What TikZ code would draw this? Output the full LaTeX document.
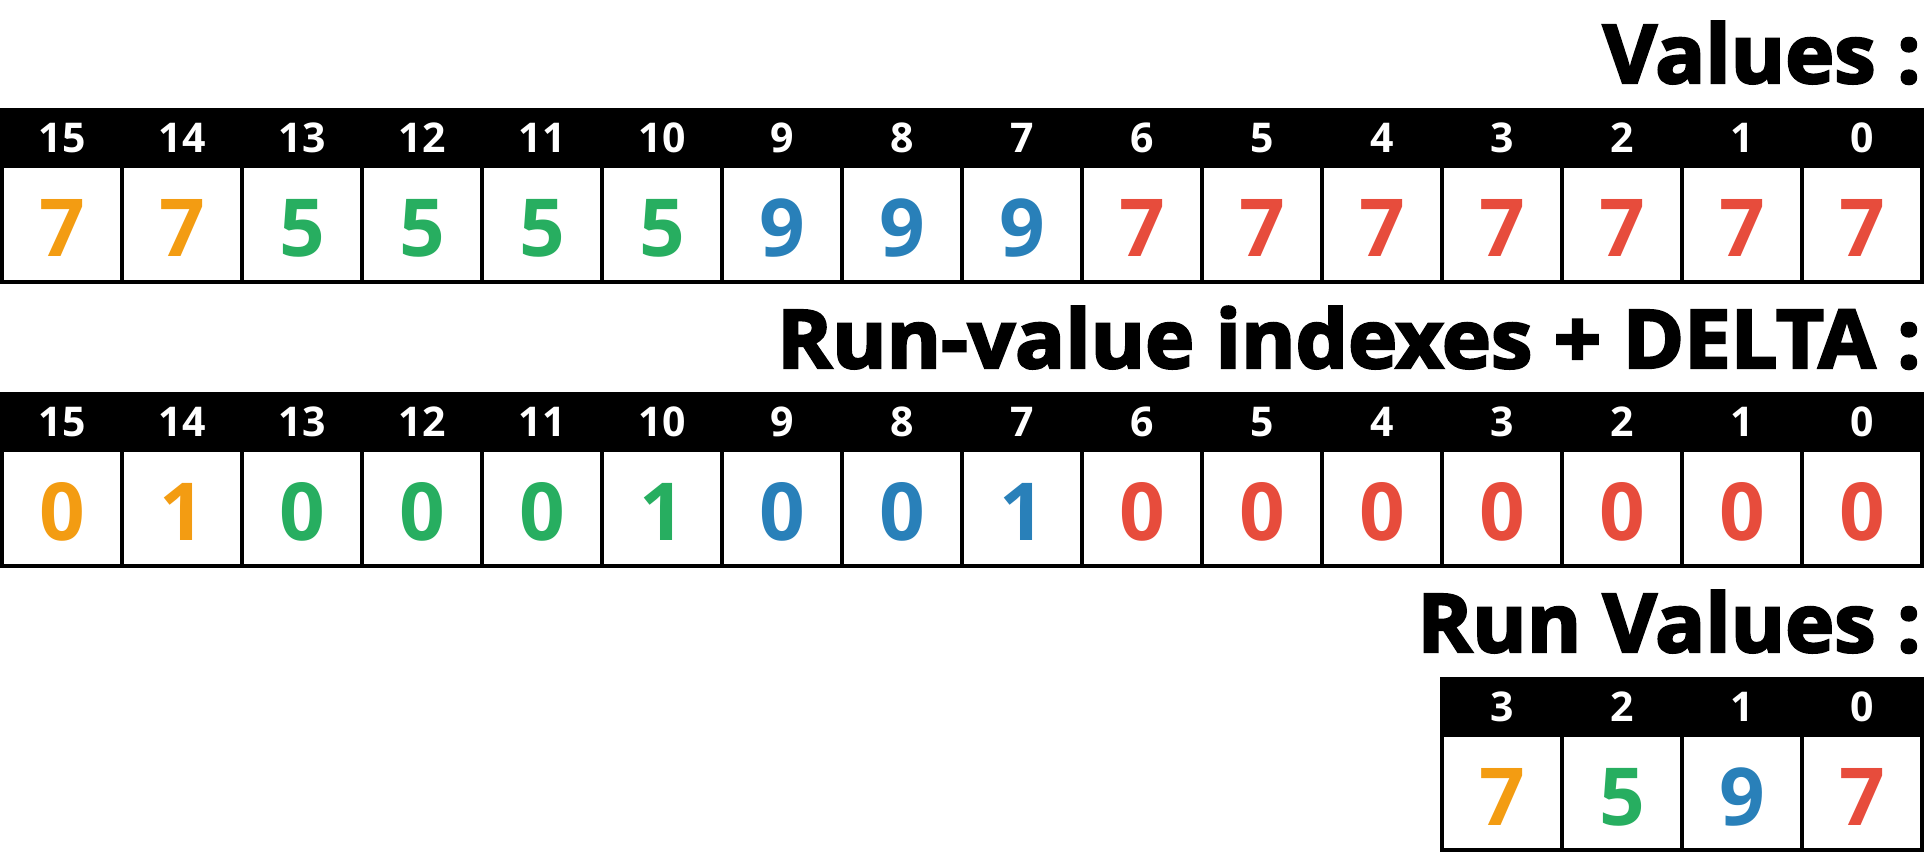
\documentclass[tikz,border=0pt]{standalone}
\usepackage{fontspec}
\setmainfont{Open Sans}
\newfontfamily\heavyfont{Open Sans}[BoldFeatures={FakeBold=3, FakeStretch=1.025}]
\definecolor{cOr}{HTML}{F39C12}
\definecolor{cGr}{HTML}{27AE60}
\definecolor{cBl}{HTML}{2980B9}
\definecolor{cRd}{HTML}{E74C3C}
\tikzset{
  bar/.style={fill=black, draw=none, inner sep=0, outer sep=0, minimum height=59.5pt, anchor=north west},
  cell/.style={draw=black, line width=4pt, minimum width=120pt, minimum height=116pt, inner sep=0, outer sep=0},
  hdr/.style={text=white, font=\bfseries\fontsize{41}{41}\selectfont, anchor=base, inner sep=0},
  val/.style={font=\bfseries\fontsize{80}{80}\selectfont, anchor=base, inner sep=0},
  title/.style={font=\heavyfont\bfseries\fontsize{81}{81}\selectfont, anchor=base east, inner sep=0}
}
\begin{document}
\begin{tikzpicture}[x=1pt,y=-1pt]
\useasboundingbox (0,0) rectangle (1924,852);
% Row 1
\node[title] (t1) at (1921,83) {Values :};
\node[bar, minimum width=1924pt] (b1) at (0,108) {};
\foreach \h [count=\i from 0] in {15,14,...,0} {
  \node[cell] (r1c\i) at (62+120*\i,223.5) {};
  \node[hdr] (r1h\i) at (62+120*\i,152) {\h};
}
\foreach \c/\v [count=\i from 0] in {cOr/7,cOr/7,cGr/5,cGr/5,cGr/5,cGr/5,cBl/9,cBl/9,cBl/9,cRd/7,cRd/7,cRd/7,cRd/7,cRd/7,cRd/7,cRd/7} {
  \node[val, text=\c] (r1v\i) at (62+120*\i,256) {\v};
}
% Row 2
\node[title] (t2) at (1921,368) {Run-value indexes + DELTA :};
\node[bar, minimum width=1924pt] (b2) at (0,392) {};
\foreach \h [count=\i from 0] in {15,14,...,0} {
  \node[cell] (r2c\i) at (62+120*\i,507.5) {};
  \node[hdr] (r2h\i) at (62+120*\i,436) {\h};
}
\foreach \c/\v [count=\i from 0] in {cOr/0,cOr/1,cGr/0,cGr/0,cGr/0,cGr/1,cBl/0,cBl/0,cBl/1,cRd/0,cRd/0,cRd/0,cRd/0,cRd/0,cRd/0,cRd/0} {
  \node[val, text=\c] (r2v\i) at (62+120*\i,540) {\v};
}
% Row 3
\node[title] (t3) at (1921,652) {Run Values :};
\node[bar, minimum width=484pt] (b3) at (1440,677) {};
\foreach \h [count=\i from 0] in {3,2,1,0} {
  \node[cell] (r3c\i) at (1502+120*\i,792) {};
  \node[hdr] (r3h\i) at (1502+120*\i,721) {\h};
}
\foreach \c/\v [count=\i from 0] in {cOr/7,cGr/5,cBl/9,cRd/7} {
  \node[val, text=\c] (r3v\i) at (1502+120*\i,825) {\v};
}
\end{tikzpicture}
\end{document}
